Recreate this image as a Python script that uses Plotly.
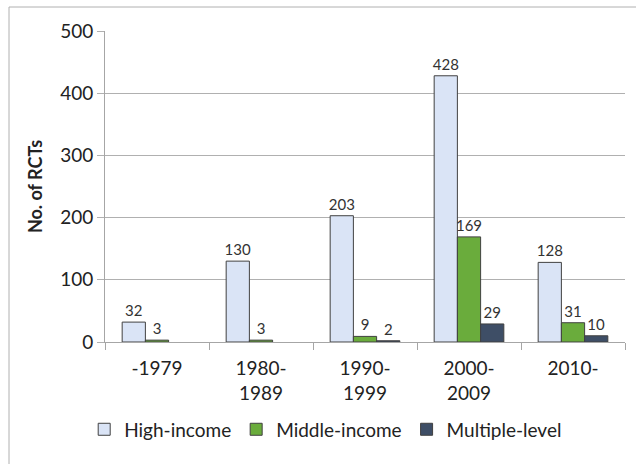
import plotly.graph_objects as go

categories = ["-1979", "1980-<br>1989", "1990-<br>1999", "2000-<br>2009", "2010-"]
high_income = [32, 130, 203, 428, 128]
middle_income = [3, 3, 9, 169, 31]
multiple_level = [None, None, 2, 29, 10]
series_names = ["High-income", "Middle-income", "Multiple-level"]
colors = ["#dae4f6", "#6aac3c", "#3e4e66"]

FONT = "Lato, 'Open Sans', sans-serif"

fig = go.Figure()
for name, vals, col in zip(series_names, [high_income, middle_income, multiple_level], colors):
    fig.add_trace(go.Bar(
        x=categories, y=vals, name=name,
        marker=dict(color=col, line=dict(color="#404040", width=1)),
        text=[("" if v is None else str(v)) for v in vals],
        textposition="outside", cliponaxis=False, constraintext="none",
        textfont=dict(size=15, color="#333333", family=FONT),
    ))

fig.update_layout(
    width=636, height=464,
    margin=dict(l=105, r=11, t=31, b=122),
    paper_bgcolor="white", plot_bgcolor="white",
    barmode="group", bargap=0.33, bargroupgap=0,
    font=dict(family=FONT, color="#222222"),
    showlegend=True,
    legend=dict(orientation="h", x=-0.04, xanchor="left", y=-0.22, yanchor="top",
                font=dict(size=19, color="#222222"), itemwidth=30,
                traceorder="normal"),
    xaxis=dict(
        showgrid=False, showline=True, linecolor="#a6a6a6", linewidth=1,
        ticks="outside", tickson="boundaries", ticklen=7, tickcolor="#a6a6a6",
        tickfont=dict(size=19, color="#222222"), ticklabelstandoff=9,
    ),
    yaxis=dict(
        range=[0, 500], dtick=100, showgrid=True, gridcolor="#b0b0b0", gridwidth=1,
        showline=True, linecolor="#a6a6a6", linewidth=1,
        ticks="outside", ticklen=7, tickcolor="#b0b0b0",
        tickfont=dict(size=19, color="#222222"), zeroline=False,
        title=dict(text="<b>No. of RCTs</b>", font=dict(size=18, color="#222222"), standoff=12),
    ),
    shapes=[dict(type="rect", xref="paper", yref="paper",
                 x0=(9 - 105) / 520, x1=1.2, y0=-0.6, y1=(342 - 7) / 311,
                 line=dict(color="#b0b0b0", width=1), fillcolor="rgba(0,0,0,0)", layer="below")],
)

fig.write_html("out.html")
